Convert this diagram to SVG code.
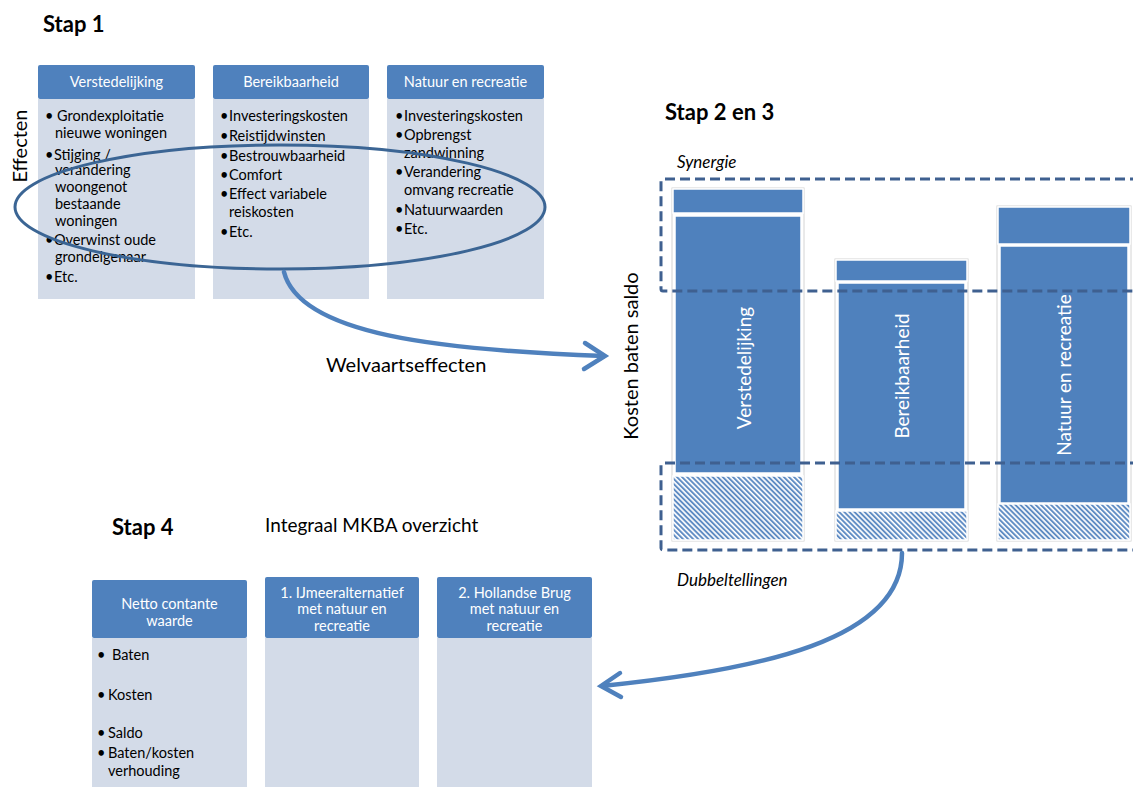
<svg xmlns="http://www.w3.org/2000/svg" width="1133" height="787" viewBox="0 0 1133 787">
  <style>
    .t { font-family: Lato, "Liberation Sans", sans-serif; fill: #000; }
    .title { font-family: Lato, "Liberation Sans", sans-serif; font-weight: bold; font-size: 22px; fill: #000; }
    .lbl { font-family: Lato, "Liberation Sans", sans-serif; font-size: 20px; fill: #000; }
    .ital { font-family: Lato, "Liberation Sans", sans-serif; font-style: italic; font-size: 17px; fill: #000; }
    .hd { fill: #4f81bd; }
    .bd { fill: #d3dbe8; }
    .hdtxt { font-family: Lato, "Liberation Sans", sans-serif; font-size: 14.5px; fill: #fff; text-anchor: middle; }
    .item { font-family: Lato, "Liberation Sans", sans-serif; font-size: 14.5px; fill: #000; }
    .bar { fill: #4f81bd; stroke: #fff; stroke-width: 1.5; }
    .frame { fill: #fff; stroke: #d4d4d4; stroke-width: 1; }
    .hatch { fill: url(#hatch); stroke: #fff; stroke-width: 1.5; }
    .barlbl { font-family: Lato, "Liberation Sans", sans-serif; font-size: 19px; fill: #fff; text-anchor: middle; }
    .dash { fill: none; stroke: #3f6090; stroke-width: 3; stroke-dasharray: 10 5; }
    .flow { fill: none; stroke: #4f81bd; stroke-width: 4.5; stroke-linecap: round; }
  </style>
  <defs>
    <pattern id="hatch" patternUnits="userSpaceOnUse" width="3.6" height="3.6" patternTransform="rotate(-45)">
      <rect width="3.6" height="3.6" fill="#fff"/>
      <line x1="1" y1="0" x2="1" y2="3.6" stroke="#5b89c2" stroke-width="1.9"/>
    </pattern>
  </defs>

  <rect width="1133" height="787" fill="#fff"/>

  <!-- step headings -->
  <text class="title" x="43" y="32">Stap 1</text>
  <text class="title" x="665" y="120">Stap 2 en 3</text>
  <text class="title" x="112" y="535">Stap 4</text>
  <text class="t" x="265" y="532" font-size="19">Integraal MKBA overzicht</text>
  <text class="lbl" transform="translate(27,146) rotate(-90)" text-anchor="middle">Effecten</text>
  <text class="lbl" transform="translate(638,356) rotate(-90)" text-anchor="middle">Kosten baten saldo</text>

  <!-- step 1: effect categories -->
  <g id="verstedelijking">
    <rect class="bd" x="38" y="99" width="157" height="200"/>
    <rect class="hd" x="38" y="65" width="157" height="34" rx="2"/>
    <text class="hdtxt" x="116.5" y="87">Verstedelijking</text>
    <text class="item"><tspan x="45" y="121">•</tspan><tspan x="57" y="121">Grondexploitatie</tspan>
      <tspan x="55" y="138">nieuwe woningen</tspan>
      <tspan x="45" y="160">•</tspan><tspan x="54" y="160">Stijging /</tspan>
      <tspan x="55" y="175">verandering</tspan>
      <tspan x="55" y="192">woongenot</tspan>
      <tspan x="55" y="209">bestaande</tspan>
      <tspan x="55" y="226">woningen</tspan>
      <tspan x="45" y="245">•</tspan><tspan x="54" y="245">Overwinst oude</tspan>
      <tspan x="55" y="262">grondeigenaar</tspan>
      <tspan x="45" y="282">•</tspan><tspan x="54" y="282">Etc.</tspan></text>
  </g>

  <g id="bereikbaarheid">
    <rect class="bd" x="213" y="99" width="156" height="200"/>
    <rect class="hd" x="213" y="65" width="156" height="34" rx="2"/>
    <text class="hdtxt" x="291" y="87">Bereikbaarheid</text>
    <text class="item"><tspan x="220" y="121">•</tspan><tspan x="229" y="121">Investeringskosten</tspan>
      <tspan x="220" y="141">•</tspan><tspan x="229" y="141">Reistijdwinsten</tspan>
      <tspan x="220" y="161">•</tspan><tspan x="229" y="161">Bestrouwbaarheid</tspan>
      <tspan x="220" y="180">•</tspan><tspan x="229" y="180">Comfort</tspan>
      <tspan x="220" y="199">•</tspan><tspan x="229" y="199">Effect variabele</tspan>
      <tspan x="229" y="217">reiskosten</tspan>
      <tspan x="220" y="237">•</tspan><tspan x="229" y="237">Etc.</tspan></text>
  </g>

  <g id="natuur-recreatie">
    <rect class="bd" x="387" y="99" width="157" height="200"/>
    <rect class="hd" x="387" y="65" width="157" height="34" rx="2"/>
    <text class="hdtxt" x="465.5" y="87">Natuur en recreatie</text>
    <text class="item"><tspan x="395" y="121">•</tspan><tspan x="404" y="121">Investeringskosten</tspan>
      <tspan x="395" y="140">•</tspan><tspan x="404" y="140">Opbrengst</tspan>
      <tspan x="404" y="158">zandwinning</tspan>
      <tspan x="395" y="177">•</tspan><tspan x="404" y="177">Verandering</tspan>
      <tspan x="404" y="195">omvang recreatie</tspan>
      <tspan x="395" y="215">•</tspan><tspan x="404" y="215">Natuurwaarden</tspan>
      <tspan x="395" y="234">•</tspan><tspan x="404" y="234">Etc.</tspan></text>
  </g>

  <!-- step 2 and 3: cost-benefit bars -->
  <g id="bar-verstedelijking">
    <rect class="frame" x="672" y="188" width="132" height="353"/>
    <rect class="bar" x="673" y="189" width="130" height="24"/>
    <rect class="bar" x="675" y="216" width="126" height="257"/>
    <rect class="hatch" x="673" y="476" width="130" height="64"/>
    <text class="barlbl" transform="translate(751,368) rotate(-90)">Verstedelijking</text>
  </g>

  <g id="bar-bereikbaarheid">
    <rect class="frame" x="835" y="259" width="133" height="282"/>
    <rect class="bar" x="836" y="260" width="131" height="21"/>
    <rect class="bar" x="838" y="283" width="127" height="226"/>
    <rect class="hatch" x="836" y="511" width="131" height="29"/>
    <text class="barlbl" transform="translate(909,376) rotate(-90)">Bereikbaarheid</text>
  </g>

  <g id="bar-natuur-recreatie">
    <rect class="frame" x="997" y="206" width="134" height="335"/>
    <rect class="bar" x="998" y="207" width="132" height="37"/>
    <rect class="bar" x="1000" y="246" width="128" height="257"/>
    <rect class="hatch" x="998" y="504" width="132" height="36"/>
    <text class="barlbl" transform="translate(1071,375) rotate(-90)">Natuur en recreatie</text>
  </g>

  <g id="synergie">
    <path class="dash" d="M1140,179 H663 Q661,179 661,181 V289 Q661,291 663,291 H1140"/>
    <text class="ital" x="677" y="168">Synergie</text>
  </g>

  <g id="dubbeltellingen">
    <path class="dash" d="M1140,463 H663 Q661,463 661,465 V548 Q661,550 663,550 H1140"/>
    <text class="ital" x="677" y="586">Dubbeltellingen</text>
  </g>

  <!-- step 4: overview -->
  <g id="netto-contante-waarde">
    <rect class="bd" x="92" y="638" width="155" height="150"/>
    <rect class="hd" x="92" y="580" width="155" height="58" rx="2"/>
    <text class="hdtxt" font-size="14"><tspan x="169.5" y="609">Netto contante</tspan><tspan x="169.5" y="626">waarde</tspan></text>
    <text class="item" font-size="14"><tspan x="97" y="660">•</tspan><tspan x="112" y="660">Baten</tspan>
      <tspan x="97" y="700">•</tspan><tspan x="108" y="700">Kosten</tspan>
      <tspan x="97" y="738">•</tspan><tspan x="108" y="738">Saldo</tspan>
      <tspan x="97" y="758">•</tspan><tspan x="108" y="758">Baten/kosten</tspan>
      <tspan x="108" y="776">verhouding</tspan></text>
  </g>

  <g id="ijmeeralternatief">
    <rect class="bd" x="265" y="638" width="154" height="150"/>
    <rect class="hd" x="265" y="577" width="154" height="61" rx="2"/>
    <text class="hdtxt" font-size="14"><tspan x="342" y="598">1. IJmeeralternatief</tspan><tspan x="342" y="614">met natuur en</tspan><tspan x="342" y="631">recreatie</tspan></text>
  </g>

  <g id="hollandse-brug">
    <rect class="bd" x="437" y="638" width="155" height="150"/>
    <rect class="hd" x="437" y="577" width="155" height="61" rx="2"/>
    <text class="hdtxt" font-size="14"><tspan x="514.5" y="598">2. Hollandse Brug</tspan><tspan x="514.5" y="614">met natuur en</tspan><tspan x="514.5" y="631">recreatie</tspan></text>
  </g>

  <!-- connectors -->
  <g id="connectors">
    <ellipse cx="280" cy="207" rx="265" ry="62" fill="none" stroke="#3b6594" stroke-width="3"/>
    <path class="flow" d="M284,272 C300,335 440,350 604,356"/>
    <path class="flow" d="M585,343 L605,356 L584,369"/>
    <text class="lbl" x="326" y="372">Welvaartseffecten</text>
    <path class="flow" d="M902,553 C902,640 760,670 602,686"/>
    <path class="flow" d="M620,673 L601,686 L621,697"/>
  </g>
</svg>
